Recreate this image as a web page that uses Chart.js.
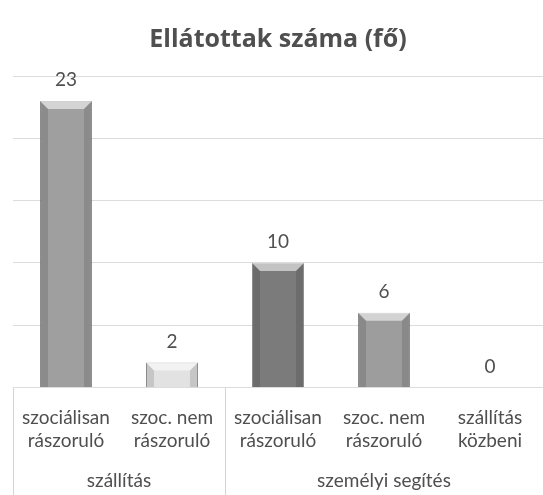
<!DOCTYPE html>
<html>
<head>
<meta charset="utf-8">
<script src="https://cdn.jsdelivr.net/npm/chart.js@4.4.1/dist/chart.umd.min.js"></script>
<style>
  html, body { margin: 0; padding: 0; background: #fff; }
  #wrap { width: 543px; height: 495px; position: relative; }
</style>
</head>
<body>
<div id="wrap"><canvas id="ellatottChart"></canvas></div>
<script>
// adatok a képről
const categories = [
    ['szociálisan', 'rászoruló'],
    ['szoc. nem', 'rászoruló'],
    ['szociálisan', 'rászoruló'],
    ['szoc. nem', 'rászoruló'],
    ['szállítás', 'közbeni']
];
const values = [23, 2, 10, 6, 0];
const barColors = ['#9f9f9f', '#e2e2e2', '#7b7b7b', '#9d9d9d', '#9d9d9d'];
const groupNames = ['szállítás', 'személyi segítés'];
const groupSizes = [2, 3];
const yTicks = [0, 5, 10, 15, 20, 25];

const textColor = '#4f4f4f';
const fontFamily = 'Lato, "Open Sans", sans-serif';

// felső fazetta a hasábokra + értékfeliratok
const bevelPlugin = {
    id: 'bevel',
    afterDatasetsDraw(chart) {
        const ctx = chart.ctx;
        const meta = chart.getDatasetMeta(0);
        meta.data.forEach((bar, i) => {
            const w = bar.width, left = bar.x - w / 2, right = bar.x + w / 2;
            const top = bar.y, base = bar.base;
            if (values[i] > 0) {
                const b = Math.min(8, (base - top) / 2);
                ctx.save();
                ctx.fillStyle = 'rgba(255,255,255,0.55)';
                ctx.beginPath();
                ctx.moveTo(left, top); ctx.lineTo(right, top);
                ctx.lineTo(right - b, top + b); ctx.lineTo(left + b, top + b);
                ctx.closePath(); ctx.fill();
                ctx.fillStyle = 'rgba(0,0,0,0.12)';
                ctx.beginPath();
                ctx.moveTo(left, top); ctx.lineTo(left + b, top + b);
                ctx.lineTo(left + b, base); ctx.lineTo(left, base);
                ctx.closePath(); ctx.fill();
                ctx.beginPath();
                ctx.moveTo(right, top); ctx.lineTo(right - b, top + b);
                ctx.lineTo(right - b, base); ctx.lineTo(right, base);
                ctx.closePath(); ctx.fill();
                ctx.restore();
            }
            ctx.save();
            ctx.fillStyle = textColor;
            ctx.font = '19px ' + fontFamily;
            ctx.textAlign = 'center';
            ctx.textBaseline = 'alphabetic';
            ctx.fillText(String(values[i]), bar.x, top - 15);
            ctx.restore();
        });
    }
};

// csoport feliratok és elválasztó vonalak az x tengely alatt
const groupPlugin = {
    id: 'groups',
    afterDraw(chart) {
        const ctx = chart.ctx;
        const xs = chart.scales.x;
        const area = chart.chartArea;
        const half = (xs.getPixelForValue(1) - xs.getPixelForValue(0)) / 2;
        let start = 0;
        ctx.save();
        ctx.strokeStyle = '#d4d4d4';
        ctx.lineWidth = 1;
        ctx.fillStyle = textColor;
        ctx.font = '19px ' + fontFamily;
        ctx.textAlign = 'center';
        ctx.textBaseline = 'middle';
        groupNames.forEach((name, g) => {
            const x0 = xs.getPixelForValue(start) - half;
            const x1 = xs.getPixelForValue(start + groupSizes[g] - 1) + half;
            ctx.beginPath();
            ctx.moveTo(Math.round(x0) + 0.5, area.bottom);
            ctx.lineTo(Math.round(x0) + 0.5, chart.height);
            ctx.stroke();
            ctx.fillText(name, (x0 + x1) / 2, chart.height - 14);
            start += groupSizes[g];
        });
        ctx.restore();
    }
};

new Chart(document.getElementById('ellatottChart'), {
    type: 'bar',
    data: {
        labels: categories,
        datasets: [{
            data: values,
            backgroundColor: barColors,
            borderColor: 'rgba(90,90,90,0.6)',
            borderWidth: 1,
            barPercentage: 0.49,
            categoryPercentage: 1
        }]
    },
    options: {
        responsive: true, maintainAspectRatio: false, animation: false,
        layout: { padding: { left: 13, right: 0, top: 0, bottom: 32 } },
        plugins: {
            legend: { display: false },
            tooltip: { enabled: false },
            title: {
                display: true, text: 'Ellátottak száma (fő)', color: textColor,
                font: { family: 'Open Sans, sans-serif', size: 25, weight: 'bold' },
                padding: { top: 25, bottom: 21 }
            }
        },
        scales: {
            x: {
                grid: { display: false },
                border: { display: false },
                ticks: { color: textColor, font: { family: fontFamily, size: 19, lineHeight: 1.25 }, padding: 10, maxRotation: 0 }
            },
            y: {
                min: 0, max: 25,
                afterBuildTicks(axis) { axis.ticks = yTicks.map(v => ({ value: v })); },
                ticks: { display: false },
                grid: { color: '#dcdcdc', drawTicks: false },
                border: { display: false }
            }
        }
    },
    plugins: [bevelPlugin, groupPlugin]
});
</script>
</body>
</html>
